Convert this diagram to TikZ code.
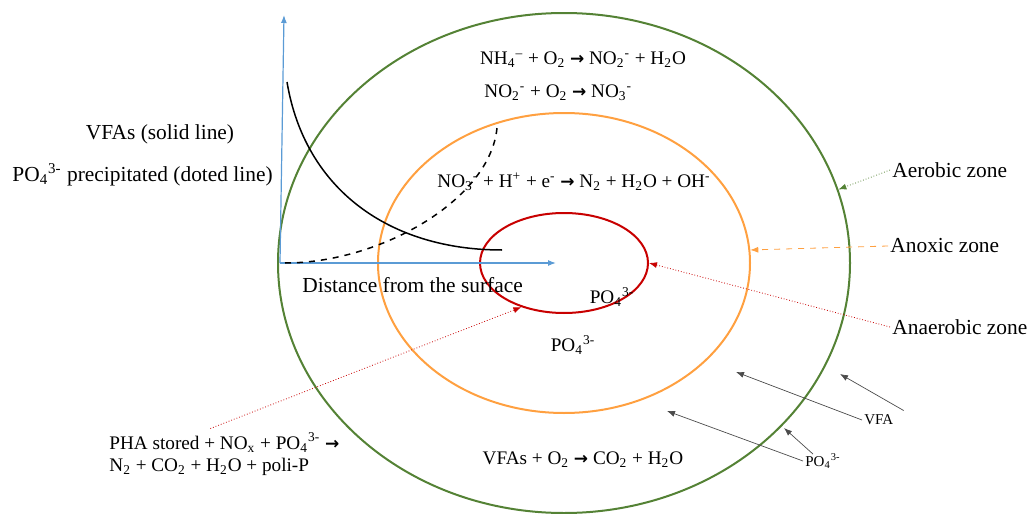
\documentclass[tikz,border=0pt]{standalone}
\usepackage{fontspec}
\setmainfont{Liberation Serif}
\newfontfamily\arrowfont{DejaVu Sans}
\usetikzlibrary{shapes.geometric, arrows.meta, positioning, calc}
\definecolor{aerogreen}{RGB}{84, 130, 53}
\definecolor{anoxorange}{RGB}{255, 160, 64}
\definecolor{anaered}{RGB}{200, 0, 0}
\definecolor{axisblue}{RGB}{91, 155, 213}
\newcommand{\chsub}[1]{\textsubscript{#1}}
\newcommand{\chsup}[1]{\textsuperscript{#1}}
\newcommand{\rarr}{{\arrowfont\bfseries\fontsize{8.5}{9}\selectfont →}}

\begin{document}
\begin{tikzpicture}[
    x=0.5pt, y=-0.5pt,
    every node/.style={font=\fontsize{10.7}{13}\selectfont, inner sep=1pt},
    reaction/.style={font=\fontsize{9.6}{11}\selectfont},
    zone/.style={ellipse, draw, line width=1pt, inner sep=0pt},
    axis/.style={-{Latex[length=4pt, width=3pt]}, axisblue, line width=0.6pt},
    pointer/.style={-{Latex[length=4pt, width=3pt]}, gray!60!black, line width=0.35pt},
    zonepointer/.style={-{Latex[length=4pt, width=3pt]}, line width=0.4pt},
    small/.style={font=\fontsize{7.5}{9}\selectfont}
]
\useasboundingbox (0,0) rectangle (1029,514);

% biofilm zones
\node[zone, aerogreen, minimum width=286pt, minimum height=250pt] (aerobiczone) at (564,263) {};
\node[zone, anoxorange, minimum width=186pt, minimum height=150pt] (anoxiczone) at (564,263) {};
\node[zone, anaered, minimum width=84pt, minimum height=50pt] (anaerobiczone) at (564,263) {};

% axes
\coordinate (origin) at (280,263);
\coordinate (ytop) at (284,15);
\coordinate (xend) at (556,263);
\draw[axis] (origin) -- (ytop);
\draw[axis] (origin) -- (xend);

% profiles
\draw[black, line width=0.75pt] (287,82) .. controls (305,190) and (390,250) .. (502,250);
\draw[black, line width=0.75pt, dashed] (285,263) .. controls (380,263) and (490,200) .. (497,128);

% reactions
\node[reaction] (nitrit) at (583,60) {NH\chsub{4}\chsup{--} + O\chsub{2} \rarr{} NO\chsub{2}\chsup{-} + H\chsub{2}O};
\node[reaction, anchor=west] (nitrat) at (482,93) {NO\chsub{2}\chsup{-} + O\chsub{2} \rarr{} NO\chsub{3}\chsup{-}};
\node[reaction, anchor=west] (denitr) at (435,182) {NO\chsub{3}\chsup{-} + H\chsup{+} + e\chsup{-} \rarr{} N\chsub{2} + H\chsub{2}O + OH\chsup{-}};
\node[reaction] (vfaox) at (583,460) {VFAs + O\chsub{2} \rarr{} CO\chsub{2} + H\chsub{2}O};
\node[reaction, anchor=west, align=left] (phalbl) at (107,454) {PHA stored + NO\chsub{x} + PO\chsub{4}\chsup{3-} \rarr\\N\chsub{2} + CO\chsub{2} + H\chsub{2}O + poli-P};

% legend and axis text
\node (solidlbl) at (160,134) {VFAs (solid line)};
\node[anchor=west] (dotlbl) at (10,175) {PO\chsub{4}\chsup{3-} precipitated (doted line)};
\node[anchor=west] (distlbl) at (300,285) {Distance from the surface};
\node[reaction] (po4in) at (612,297) {PO\chsub{4}\chsup{3-}};
\node[reaction] (po4out) at (573,345) {PO\chsub{4}\chsup{3-}};

% zone labels
\node[anchor=west] (aerolbl) at (890,170) {Aerobic zone};
\node[anchor=west] (anoxlbl) at (888,246) {Anoxic zone};
\node[anchor=west] (anaerolbl) at (890,327) {Anaerobic zone};
\draw[zonepointer, aerogreen, densely dotted] (aerolbl.west) -- (aerobiczone.15.6);
\draw[zonepointer, anoxorange, dashed] (anoxlbl.west) -- (anoxiczone.4);
\draw[zonepointer, anaered, densely dotted] (anaerolbl.west) -- (anaerobiczone.east);
\draw[zonepointer, anaered, densely dotted] ($(phalbl.north)+(-14,-2)$) -- (anaerobiczone.226);

% diffusion from bulk
\node[anchor=west, small] (vfalbl) at (862,420) {VFA};
\node[anchor=west, small] (po4lbl) at (803,461) {PO\chsub{4}\chsup{3-}};
\coordinate (vfatipa) at (840,374);
\coordinate (vfatipb) at (736,372);
\coordinate (po4tipa) at (784,428);
\coordinate (po4tipb) at (667,411);
\draw[pointer] ($(vfalbl.north east)+(8,-2)$) -- (vfatipa);
\draw[pointer] (vfalbl.west) -- (vfatipb);
\draw[pointer] ($(po4lbl.north west)+(10,3)$) -- (po4tipa);
\draw[pointer] (po4lbl.west) -- (po4tipb);

\end{tikzpicture}
\end{document}
